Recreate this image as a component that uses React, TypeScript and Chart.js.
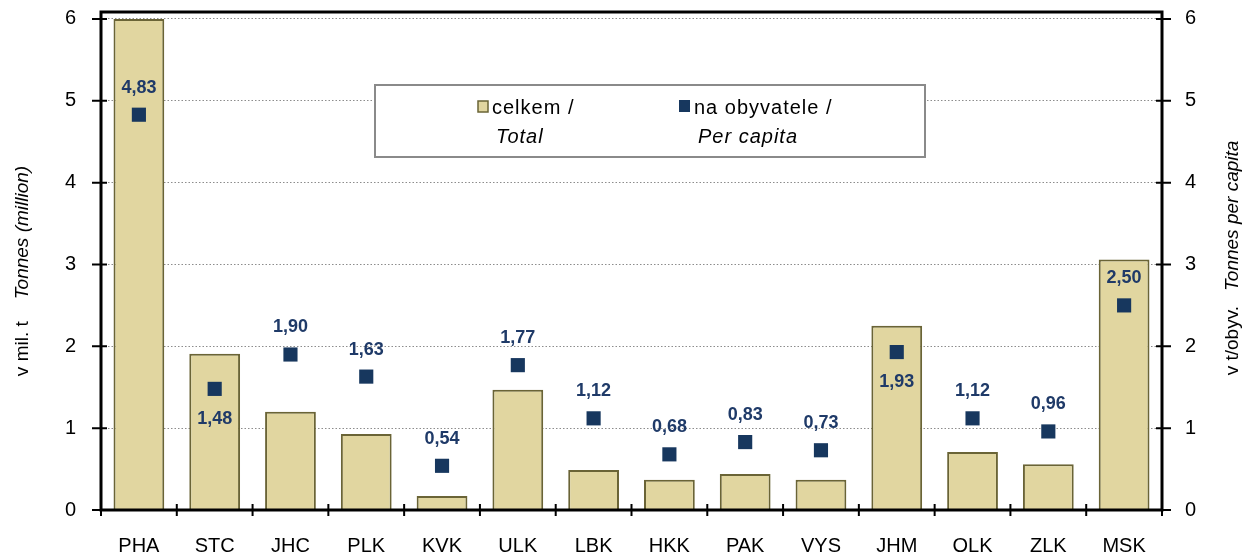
import { useEffect, useRef } from "react";
import { Chart, registerables } from "chart.js";

Chart.register(...registerables);

const categories = ["PHA", "STC", "JHC", "PLK", "KVK", "ULK", "LBK", "HKK", "PAK", "VYS", "JHM", "OLK", "ZLK", "MSK"];
const totalValues = [6.0, 1.91, 1.2, 0.93, 0.17, 1.47, 0.49, 0.37, 0.44, 0.37, 2.25, 0.71, 0.56, 3.06];
const perCapitaValues = [4.83, 1.48, 1.9, 1.63, 0.54, 1.77, 1.12, 0.68, 0.83, 0.73, 1.93, 1.12, 0.96, 2.5];
const labelBelow = [false, true, false, false, false, false, false, false, false, false, true, false, false, false];
const yTicks = [0, 1, 2, 3, 4, 5, 6];
const leftTitle = ["v mil. t", "Tonnes (million)"];
const rightTitle = ["v t/obyv.", "Tonnes per capita"];
const legendTotal = ["celkem /", "Total"];
const legendPerCapita = ["na obyvatele /", "Per capita"];

const FONT = '"Liberation Sans", Arial, sans-serif';
const BAR_FILL = "#E1D6A0";
const BAR_BORDER = "#6A6436";
const MARK = "#17375E";
const LABEL = "#1F3A68";

const fmt = (v: number) => v.toFixed(2).replace(".", ",");

function drawRotated(ctx: CanvasRenderingContext2D, cx: number, cy: number, parts: string[], gap: number) {
  ctx.save();
  ctx.translate(cx, cy);
  ctx.rotate(-Math.PI / 2);
  const fNormal = `19px ${FONT}`;
  const fItalic = `italic 19px ${FONT}`;
  ctx.font = fNormal;
  const w1 = ctx.measureText(parts[0]).width;
  ctx.font = fItalic;
  const w2 = ctx.measureText(parts[1]).width;
  const start = -(w1 + gap + w2) / 2;
  ctx.fillStyle = "#000";
  ctx.textBaseline = "middle";
  ctx.textAlign = "left";
  ctx.font = fNormal;
  ctx.fillText(parts[0], start, 0);
  ctx.font = fItalic;
  ctx.fillText(parts[1], start + w1 + gap, 0);
  ctx.restore();
}

const decor = {
  id: "decor",
  afterDatasetsDraw(chart: any) {
    const { ctx, chartArea: a, scales } = chart;
    const x = scales.x;
    const y = scales.y;
    const y1 = scales.y1;
    ctx.save();

    // data labels
    const meta = chart.getDatasetMeta(1);
    ctx.font = `bold 18px ${FONT}`;
    ctx.fillStyle = LABEL;
    ctx.textAlign = "center";
    ctx.textBaseline = "middle";
    meta.data.forEach((pt: any, i: number) => {
      const dy = labelBelow[i] ? 30 : -27;
      ctx.fillText(fmt(perCapitaValues[i]), pt.x, pt.y + dy);
    });

    // frame + ticks
    ctx.strokeStyle = "#000";
    ctx.lineWidth = 3;
    ctx.strokeRect(a.left, a.top, a.right - a.left, a.bottom - a.top);
    ctx.lineWidth = 2;
    ctx.beginPath();
    yTicks.forEach((v) => {
      const py = y.getPixelForValue(v);
      ctx.moveTo(a.left - 9, py);
      ctx.lineTo(a.left + 6, py);
      const py1 = y1.getPixelForValue(v);
      ctx.moveTo(a.right - 6, py1);
      ctx.lineTo(a.right + 9, py1);
    });
    for (let i = 0; i <= categories.length; i++) {
      let px: number;
      if (i === 0) px = a.left;
      else if (i === categories.length) px = a.right;
      else px = (x.getPixelForValue(i - 1) + x.getPixelForValue(i)) / 2;
      ctx.moveTo(px, a.bottom - 6);
      ctx.lineTo(px, a.bottom + 6);
    }
    ctx.stroke();

    // axis titles
    drawRotated(ctx, 23, 271, leftTitle, 22);
    drawRotated(ctx, 1233, 258, rightTitle, 15);

    // legend
    ctx.fillStyle = "#fff";
    ctx.fillRect(375, 85, 550, 72);
    ctx.strokeStyle = "#8A8A8A";
    ctx.lineWidth = 2;
    ctx.strokeRect(375, 85, 550, 72);

    ctx.fillStyle = BAR_FILL;
    ctx.fillRect(478, 101, 10, 11);
    ctx.strokeStyle = BAR_BORDER;
    ctx.lineWidth = 1.5;
    ctx.strokeRect(478, 101, 10, 11);
    ctx.fillStyle = MARK;
    ctx.fillRect(679, 100, 11, 12);

    ctx.fillStyle = "#000";
    ctx.textAlign = "left";
    ctx.textBaseline = "middle";
    (ctx as any).letterSpacing = "1px";
    ctx.font = `20px ${FONT}`;
    ctx.fillText(legendTotal[0], 492, 108);
    ctx.fillText(legendPerCapita[0], 694, 108);
    ctx.font = `italic 20px ${FONT}`;
    ctx.fillText(legendTotal[1], 496, 137);
    ctx.fillText(legendPerCapita[1], 698, 137);
    (ctx as any).letterSpacing = "0px";

    ctx.restore();
  },
};

export default function App() {
  const ref = useRef<HTMLCanvasElement | null>(null);

  useEffect(() => {
    document.body.style.margin = "0";
    const canvas = ref.current;
    if (!canvas) return;
    const chart = new Chart(canvas, {
      type: "bar",
      data: {
        labels: categories,
        datasets: [
          {
            type: "bar",
            label: "celkem / Total",
            data: totalValues,
            backgroundColor: BAR_FILL,
            borderColor: BAR_BORDER,
            borderWidth: 2,
            barPercentage: 0.67,
            categoryPercentage: 1,
            yAxisID: "y",
            order: 2,
          },
          {
            type: "line",
            label: "na obyvatele / Per capita",
            data: perCapitaValues,
            showLine: false,
            pointStyle: "rect",
            pointRadius: 10,
            pointBackgroundColor: MARK,
            pointBorderColor: MARK,
            pointBorderWidth: 0,
            yAxisID: "y1",
            order: 1,
          } as any,
        ],
      },
      options: {
        responsive: false,
        animation: false,
        layout: { padding: { top: 12, left: 0, right: 0, bottom: 0 } },
        plugins: { legend: { display: false }, tooltip: { enabled: false } },
        scales: {
          x: {
            grid: { display: false },
            border: { display: false },
            ticks: { color: "#000", font: { family: FONT, size: 20 }, padding: 16, maxRotation: 0 },
            afterFit: (s: any) => {
              s.height = 45;
              s.paddingLeft = 0;
              s.paddingRight = 0;
            },
          },
          y: {
            position: "left",
            min: 0,
            max: 6.085,
            afterBuildTicks: (s: any) => {
              s.ticks = yTicks.map((v) => ({ value: v }));
            },
            grid: {
              drawTicks: false,
              color: (c: any) => (c.tick && c.tick.value === 0 ? "rgba(0,0,0,0)" : "#8C8C8C"),
              lineWidth: 1,
            },
            border: { display: false, dash: [1.5, 2] },
            ticks: { color: "#000", font: { family: FONT, size: 20 }, padding: 25 },
            afterFit: (s: any) => {
              s.width = 101;
              s.paddingTop = 0;
              s.paddingBottom = 0;
            },
          },
          y1: {
            position: "right",
            min: 0,
            max: 6.085,
            afterBuildTicks: (s: any) => {
              s.ticks = yTicks.map((v) => ({ value: v }));
            },
            grid: { display: false, drawTicks: false },
            border: { display: false },
            ticks: { color: "#000", font: { family: FONT, size: 20 }, padding: 23 },
            afterFit: (s: any) => {
              s.width = 81;
              s.paddingTop = 0;
              s.paddingBottom = 0;
            },
          },
        },
      },
      plugins: [decor],
    });
    return () => chart.destroy();
  }, []);

  return (
    <div style={{ position: "absolute", left: 0, top: 0, width: 1243, height: 555 }}>
      <canvas ref={ref} width={1243} height={555} />
    </div>
  );
}
